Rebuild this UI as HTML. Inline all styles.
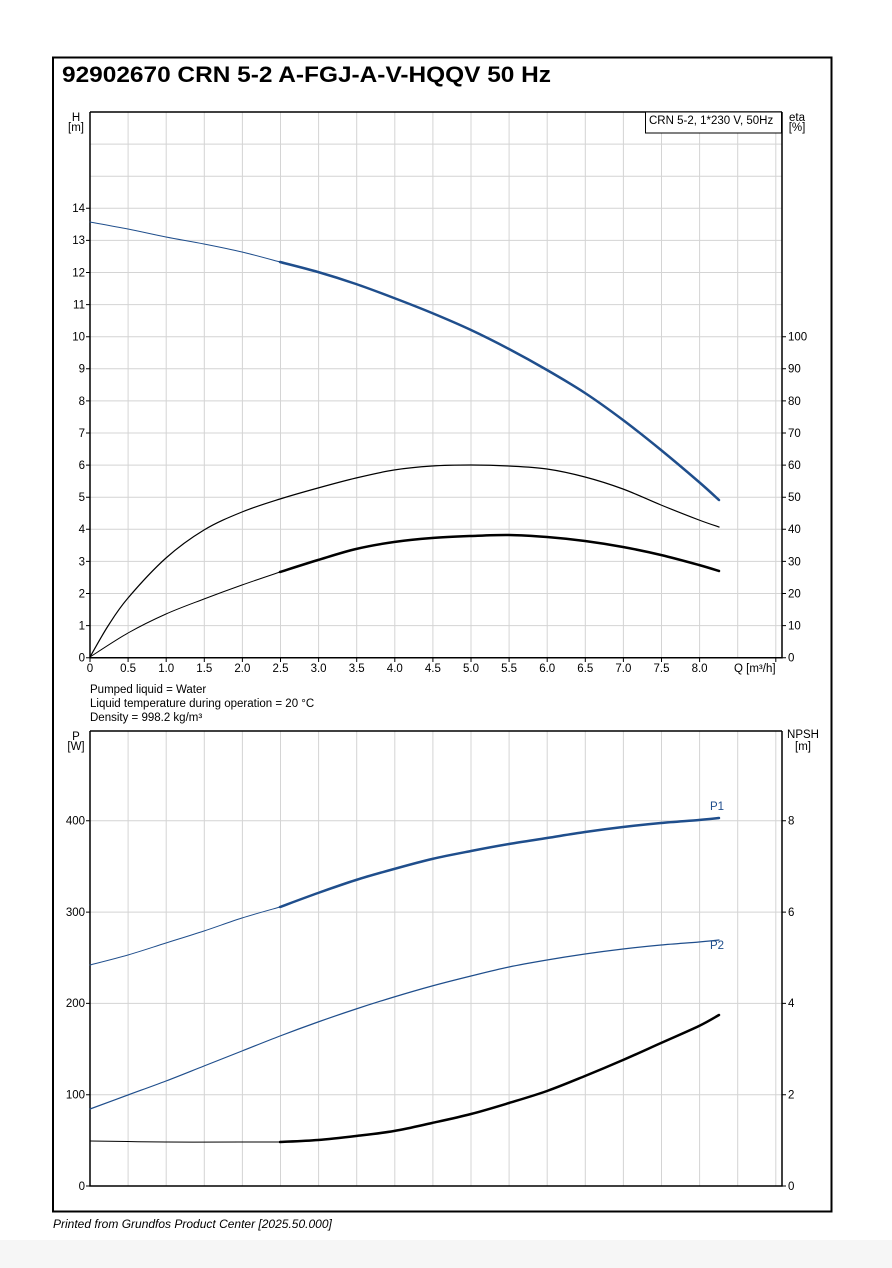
<!DOCTYPE html>
<html><head><meta charset="utf-8"><style>
body{margin:0;background:#fff;}
svg{display:block;font-family:"Liberation Sans",sans-serif;}
</style></head><body>
<svg width="892" height="1268" viewBox="0 0 892 1268" xmlns="http://www.w3.org/2000/svg">
<rect x="0" y="1240" width="892" height="28" fill="#f6f6f6"/>
<rect x="53" y="57.5" width="778.5" height="1154" fill="none" stroke="#000" stroke-width="2"/>
<text x="62" y="82" font-size="22" font-weight="bold" textLength="489" lengthAdjust="spacingAndGlyphs">92902670 CRN 5-2 A-FGJ-A-V-HQQV 50 Hz</text>

<g stroke="#d4d4d4" stroke-width="1">
<path d="M128.1 112V657.7M166.2 112V657.7M204.3 112V657.7M242.4 112V657.7M280.5 112V657.7M318.6 112V657.7M356.7 112V657.7M394.8 112V657.7M432.9 112V657.7M471 112V657.7M509.1 112V657.7M547.2 112V657.7M585.3 112V657.7M623.4 112V657.7M661.5 112V657.7M699.6 112V657.7M737.7 112V657.7M775.8 112V657.7"/>
<path d="M90 625.6H782M90 593.5H782M90 561.4H782M90 529.3H782M90 497.2H782M90 465.1H782M90 433H782M90 400.9H782M90 368.8H782M90 336.7H782M90 304.6H782M90 272.5H782M90 240.4H782M90 208.3H782M90 176.2H782M90 144.1H782"/>
<path d="M128.1 731V1186M166.2 731V1186M204.3 731V1186M242.4 731V1186M280.5 731V1186M318.6 731V1186M356.7 731V1186M394.8 731V1186M432.9 731V1186M471 731V1186M509.1 731V1186M547.2 731V1186M585.3 731V1186M623.4 731V1186M661.5 731V1186M699.6 731V1186M737.7 731V1186M775.8 731V1186"/>
<path d="M90 1094.7H782M90 1003.4H782M90 912.1H782M90 820.8H782"/>
</g>
<g fill="none" stroke="#000" stroke-width="1.5">
<path d="M90 112H782M90 112V657.7H782V112"/>
<path d="M90 731H782M90 731V1186H782V731"/>
</g>
<g stroke="#000" stroke-width="1">
<path d="M86 657.7H90M86 625.6H90M86 593.5H90M86 561.4H90M86 529.3H90M86 497.2H90M86 465.1H90M86 433H90M86 400.9H90M86 368.8H90M86 336.7H90M86 304.6H90M86 272.5H90M86 240.4H90M86 208.3H90"/>
<path d="M782 657.7H786M782 625.6H786M782 593.5H786M782 561.4H786M782 529.3H786M782 497.2H786M782 465.1H786M782 433H786M782 400.9H786M782 368.8H786M782 336.7H786"/>
<path d="M90 657.7V662M128.1 657.7V662M166.2 657.7V662M204.3 657.7V662M242.4 657.7V662M280.5 657.7V662M318.6 657.7V662M356.7 657.7V662M394.8 657.7V662M432.9 657.7V662M471 657.7V662M509.1 657.7V662M547.2 657.7V662M585.3 657.7V662M623.4 657.7V662M661.5 657.7V662M699.6 657.7V662M775.8 657.7V662"/>
<path d="M86 1186H90M86 1094.7H90M86 1003.4H90M86 912.1H90M86 820.8H90"/>
<path d="M782 1186H786M782 1094.7H786M782 1003.4H786M782 912.1H786M782 820.8H786"/>
</g>
<g font-size="11.5" text-anchor="end">
<text x="85" y="661.5">0</text><text x="85" y="629.5">1</text><text x="85" y="597.5">2</text><text x="85" y="565.5">3</text><text x="85" y="533">4</text><text x="85" y="501">5</text><text x="85" y="469">6</text><text x="85" y="437">7</text><text x="85" y="405">8</text><text x="85" y="372.5">9</text><text x="85" y="340.5">10</text><text x="85" y="308.5">11</text><text x="85" y="276.5">12</text><text x="85" y="244">13</text><text x="85" y="212">14</text>
<text x="85" y="1190">0</text><text x="85" y="1098.5">100</text><text x="85" y="1007">200</text><text x="85" y="916">300</text><text x="85" y="824.5">400</text>
</g>
<g font-size="11.5">
<text x="788" y="661.5">0</text><text x="788" y="629.5">10</text><text x="788" y="597.5">20</text><text x="788" y="565.5">30</text><text x="788" y="533">40</text><text x="788" y="501">50</text><text x="788" y="469">60</text><text x="788" y="437">70</text><text x="788" y="405">80</text><text x="788" y="372.5">90</text><text x="788" y="340.5">100</text>
<text x="788" y="1190">0</text><text x="788" y="1098.5">2</text><text x="788" y="1007">4</text><text x="788" y="916">6</text><text x="788" y="824.5">8</text>
</g>
<g font-size="11.5" text-anchor="middle">
<text x="90" y="672">0</text><text x="128.1" y="672">0.5</text><text x="166.2" y="672">1.0</text><text x="204.3" y="672">1.5</text><text x="242.4" y="672">2.0</text><text x="280.5" y="672">2.5</text><text x="318.6" y="672">3.0</text><text x="356.7" y="672">3.5</text><text x="394.8" y="672">4.0</text><text x="432.9" y="672">4.5</text><text x="471" y="672">5.0</text><text x="509.1" y="672">5.5</text><text x="547.2" y="672">6.0</text><text x="585.3" y="672">6.5</text><text x="623.4" y="672">7.0</text><text x="661.5" y="672">7.5</text><text x="699.6" y="672">8.0</text>
<text x="76" y="121">H</text><text x="76" y="131">[m]</text>
<text x="797" y="121">eta</text><text x="797" y="131">[%]</text>
<text x="76" y="740">P</text><text x="76" y="750">[W]</text>
<text x="803" y="738">NPSH</text><text x="803" y="750">[m]</text>
</g>
<text x="734" y="672" font-size="11.5">Q [m³/h]</text>
<rect x="645.5" y="112" width="136" height="21" fill="#fff" stroke="#000" stroke-width="1"/>
<text x="649" y="124" font-size="11.5">CRN 5-2, 1*230 V, 50Hz</text>
<g font-size="11.5">
<text x="90" y="693">Pumped liquid = Water</text>
<text x="90" y="707">Liquid temperature during operation = 20 °C</text>
<text x="90" y="721">Density = 998.2 kg/m³</text>
</g>
<text x="53" y="1228" font-size="12" font-style="italic">Printed from Grundfos Product Center [2025.50.000]</text>

<g fill="none" stroke-linejoin="round" stroke-linecap="round">
<polyline class="s" stroke="#1f4e8c" stroke-width="1" points="90,222 128,229 166,237 204,244 242,252 280,262"/>
<polyline class="s" stroke="#1f4e8c" stroke-width="2.5" points="280,262 318,272 356,284 394,298 432,313 471,330 509,349 547,370 585,393 623,420 661,450 699,482 719,500"/>
<polyline class="s" stroke="#000" stroke-width="1.2" points="90,657 108,626 128,598 166,558 204,530 242,512 280,499 318,488 356,478 394,470 432,466 471,465 509,466 547,469 585,477 623,489 661,505 699,520 719,527"/>
<polyline class="s" stroke="#000" stroke-width="1" points="90,657 128,633 166,614 204,599 242,585 280,572"/>
<polyline class="s" stroke="#000" stroke-width="2.5" points="280,572 318,560 356,549 394,542 432,538 471,536 509,535 547,537 585,541 623,547 661,555 699,565 719,571"/>
<polyline class="s" stroke="#1f4e8c" stroke-width="1" points="90,965 128,955 166,943 204,931 242,918 280,907"/>
<polyline class="s" stroke="#1f4e8c" stroke-width="2.5" points="280,907 318,893 356,880 394,869 432,859 471,851 509,844 547,838 585,832 623,827 661,823 699,820 719,818"/>
<polyline class="s" stroke="#1f4e8c" stroke-width="1.2" points="90,1109 128,1095 166,1081 204,1066 242,1051 280,1036 318,1022 356,1009 394,997 432,986 471,976 509,967 547,960 585,954 623,949 661,945 699,942 719,940"/>
<polyline class="s" stroke="#000" stroke-width="1" points="90,1141 166,1142 242,1142 280,1142"/>
<polyline class="s" stroke="#000" stroke-width="2.5" points="280,1142 318,1140 356,1136 394,1131 432,1123 471,1114 509,1103 547,1091 585,1076 623,1060 661,1043 699,1026 719,1015"/>
</g>
<text x="710" y="810" font-size="11.5" fill="#1f4e8c">P1</text>
<text x="710" y="949" font-size="11.5" fill="#1f4e8c">P2</text>
</svg>
<script>
document.querySelectorAll('polyline.s').forEach(function(pl){
  var p=pl.getAttribute('points').trim().split(/\s+/).map(function(s){return s.split(',').map(Number);});
  var d='M'+p[0][0]+' '+p[0][1];
  for(var i=0;i<p.length-1;i++){
    var p0=p[i-1]||p[i],p1=p[i],p2=p[i+1],p3=p[i+2]||p2;
    var c1x=p1[0]+(p2[0]-p0[0])/6,c1y=p1[1]+(p2[1]-p0[1])/6;
    var c2x=p2[0]-(p3[0]-p1[0])/6,c2y=p2[1]-(p3[1]-p1[1])/6;
    d+=' C'+c1x+' '+c1y+' '+c2x+' '+c2y+' '+p2[0]+' '+p2[1];
  }
  var path=document.createElementNS('http://www.w3.org/2000/svg','path');
  ['stroke','stroke-width'].forEach(function(a){path.setAttribute(a,pl.getAttribute(a));});
  path.setAttribute('d',d);
  pl.parentNode.replaceChild(path,pl);
});
</script>
</body></html>
